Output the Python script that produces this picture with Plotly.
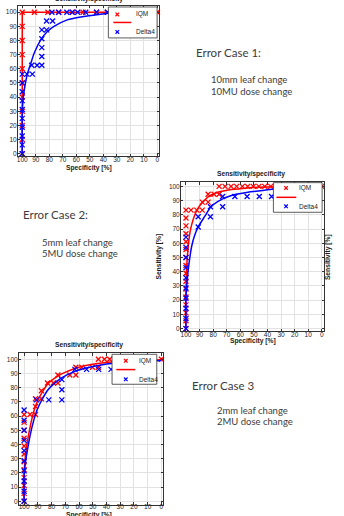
import plotly.graph_objects as go

W, H = 344, 516

# ---------------- Data: Error case 1 ----------------
c1_iqm_x = [100, 100, 100, 100, 100, 100, 100, 100, 100, 100, 100,
            91, 81, 73, 63, 55, 45, 37, 0]
c1_iqm_y = [0, 10, 20, 30, 40, 50, 60, 70, 80, 90, 100,
            100, 100, 100, 100, 100, 100, 100, 100]
c1_iqm_fit_x = [100, 100, 0]
c1_iqm_fit_y = [0, 100, 100]
c1_d4_x = [100, 100, 100, 100, 100, 100, 100, 100, 100, 100,
           96.5, 93, 92.5, 89, 85.5, 85.5, 85.5, 85.5, 85.5, 82, 82, 77.5,
           78, 73, 67, 63, 59, 53, 45, 37]
c1_d4_y = [0, 6.25, 12.5, 18.75, 25, 31.25, 37.5, 43.75, 50, 56.25,
           56.25, 62.5, 56.25, 62.5, 62.5, 68.75, 75, 81.25, 87.5, 87.5, 93.75, 93.75,
           100, 100, 100, 100, 100, 100, 100, 100]
c1_d4_fit_x = [100, 100, 99.5, 98.5, 96, 93.6, 91.2, 86.3, 81.4, 76.5, 66.7, 54.4, 42.2, 32.4]
c1_d4_fit_y = [0, 28.7, 37, 45, 57, 64, 71, 80.5, 86.4, 90, 94.6, 97, 98.6, 99.8]

# ---------------- Data: Error case 2 ----------------
c2_iqm_x = [100] * 16 + [96.3, 92, 88, 88, 83.7, 83.7, 79.3, 75.6,
                         75.6, 71.2, 66.8, 62.7, 58.5, 54.6, 50.5, 46.3, 42, 37.6, 0]
c2_iqm_y = [0, 5.6, 11.1, 16.7, 22.2, 27.8, 33.3, 38.9, 44.4, 50, 55.6, 61.1, 66.7, 72.2, 77.8, 83.3,
            83.3, 83.3, 83.3, 88.9, 88.9, 94.4, 94.4, 94.4,
            100, 100, 100, 100, 100, 100, 100, 100, 100, 100, 100]
c2_iqm_fit_x = [100, 100, 99.4, 98.3, 97.1, 95.8, 93.4, 91, 88, 83.7, 76.4, 66.6, 54.4, 42, 20, 0]
c2_iqm_fit_y = [0, 25, 45, 57.9, 67.3, 73.1, 80.2, 84.9, 88.4, 92.6, 95.8, 97.7, 98.9, 99.6, 99.9, 100]
c2_d4_x = [100] * 10 + [91, 91, 82, 82, 73, 73, 64, 55, 46, 37]
c2_d4_y = [0, 7.1, 14.3, 21.4, 28.6, 35.7, 42.9, 50, 57.1, 64.3,
           71.4, 78.6, 78.6, 85.7, 85.7, 92.9, 92.9, 92.9, 92.9, 92.9]
c2_d4_fit_x = [100, 100, 99.2, 98.3, 95.8, 93.4, 91, 86.1, 81.9, 76.4, 66.6, 54.4, 42.1, 37, 20, 0]
c2_d4_fit_y = [0, 22, 33, 41.6, 57.9, 66.1, 71.5, 79, 85.3, 89.5, 93.5, 95.8, 97.2, 98, 98.8, 99.3]

# ---------------- Data: Error case 3 ----------------
c3_iqm_x = [100] * 12 + [95.7, 91.7, 91.7, 91.7, 87.4, 87.4, 83, 78.7, 75.4, 75.4,
                         66.7, 62.3, 62.3, 58, 50.2, 45.9, 45.9, 41.5, 37.7, 0]
c3_iqm_y = [0, 5.6, 11.1, 16.7, 22.2, 27.8, 33.3, 38.9, 44.4, 50, 55.6, 61.1,
            61.1, 61.1, 66.7, 72.2, 72.2, 77.8, 83.3, 83.3, 88.9, 83.3,
            88.9, 88.9, 94.4, 94.4, 94.4, 94.4, 100, 100, 100, 100]
c3_iqm_fit_x = [100, 100, 99, 97.6, 95.5, 93, 90.5, 87, 83, 78, 73, 63, 54, 45, 35, 20, 0]
c3_iqm_fit_y = [0, 20, 32, 42, 53, 63, 70, 76.5, 82.5, 86.5, 89.5, 93.5, 95.8, 97.2, 98.2, 99, 99.6]
c3_d4_x = [100] * 10 + [91, 82, 72.5, 72.5, 72.5, 63, 54.5, 45.7, 36.7]
c3_d4_y = [0, 7.1, 14.3, 21.4, 28.6, 35.7, 42.9, 50, 57.1, 64.3,
           71.4, 71.4, 71.4, 78.6, 85.7, 92.9, 92.9, 92.9, 92.9]
c3_d4_fit_x = [100, 100, 99, 97.6, 95.5, 93, 90.5, 87, 83, 78, 73, 63, 54, 45, 35, 20, 0]
c3_d4_fit_y = [0, 18, 28, 36, 47, 57, 64.5, 71.5, 78, 83, 86.8, 91.5, 94, 95.8, 97.2, 98.3, 99.2]

tick_vals = [0, 10, 20, 30, 40, 50, 60, 70, 80, 90, 100]
legend_names = ["IQM", "Delta4"]
title_text = "Sensitivity/specificity"
xlabel_text = "Specificity [%]"
ylabel_text = "Sensitivity [%]"
case_titles = ["Error Case 1:", "Error Case 2:", "Error Case 3"]
case_lines = [["10mm leaf change", "10MU dose change"],
              ["5mm leaf change", "5MU dose change"],
              ["2mm leaf change", "2MU dose change"]]

RED = "#ff0000"
BLUE = "#0000ff"


def px(x):
    return x / W


def py(y):
    return 1 - y / H


fig = go.Figure()

cases = [
    (c1_iqm_x, c1_iqm_y, c1_iqm_fit_x, c1_iqm_fit_y, c1_d4_x, c1_d4_y, c1_d4_fit_x, c1_d4_fit_y, "linear"),
    (c2_iqm_x, c2_iqm_y, c2_iqm_fit_x, c2_iqm_fit_y, c2_d4_x, c2_d4_y, c2_d4_fit_x, c2_d4_fit_y, "spline"),
    (c3_iqm_x, c3_iqm_y, c3_iqm_fit_x, c3_iqm_fit_y, c3_d4_x, c3_d4_y, c3_d4_fit_x, c3_d4_fit_y, "spline"),
]

for i, (ix, iy, ifx, ify, dx, dy, dfx, dfy, shp) in enumerate(cases):
    xa = "x" if i == 0 else f"x{i+1}"
    ya = "y" if i == 0 else f"y{i+1}"
    mk = dict(symbol="x-thin", size=5)
    fig.add_trace(go.Scatter(x=ix, y=iy, mode="markers", xaxis=xa, yaxis=ya,
                             marker=dict(**mk, color=RED, line=dict(width=1.3, color=RED)),
                             showlegend=False, cliponaxis=False))
    fig.add_trace(go.Scatter(x=ifx, y=ify, mode="lines", xaxis=xa, yaxis=ya,
                             line=dict(color=RED, width=1.5, shape=shp, smoothing=0.6),
                             showlegend=False))
    fig.add_trace(go.Scatter(x=dx, y=dy, mode="markers", xaxis=xa, yaxis=ya,
                             marker=dict(**mk, color=BLUE, line=dict(width=1.3, color=BLUE)),
                             showlegend=False, cliponaxis=False))
    fig.add_trace(go.Scatter(x=dfx, y=dfy, mode="lines", xaxis=xa, yaxis=ya,
                             line=dict(color=BLUE, width=1.5, shape="spline", smoothing=0.6),
                             showlegend=False))

# axis frames (pixel boxes) and ranges
frames = [
    dict(box=(17, 6, 159, 156.7), xr=[103.2, -1.25], yr=[-1.9, 104.4]),
    dict(box=(181, 182.7, 325, 332), xr=[103.7, -1.7], yr=[-1.9, 102.8]),
    dict(box=(18, 354, 163, 505.7), xr=[103.8, -1.2], yr=[-2.4, 104.2]),
]

tickfont = dict(family="Liberation Sans, Arial, sans-serif", size=6.5, color="#262626")
common = dict(showgrid=True, gridcolor="#e2e2e2", gridwidth=0.6, showline=True,
              linecolor="#333333", linewidth=0.8, mirror="ticks", ticks="inside",
              ticklen=2.5, tickwidth=0.7, tickcolor="#333333", tickfont=tickfont,
              zeroline=False, tickvals=tick_vals, fixedrange=True)

layout_axes = {}
for i, fr in enumerate(frames):
    x0, y0, x1, y1 = fr["box"]
    xk = "xaxis" if i == 0 else f"xaxis{i+1}"
    yk = "yaxis" if i == 0 else f"yaxis{i+1}"
    ya = "y" if i == 0 else f"y{i+1}"
    xa = "x" if i == 0 else f"x{i+1}"
    layout_axes[xk] = dict(domain=[px(x0), px(x1)], range=fr["xr"], anchor=ya,
                           ticklabelstandoff=-4 if i == 2 else -3, **common)
    layout_axes[yk] = dict(domain=[py(y1), py(y0)], range=fr["yr"], anchor=xa,
                           ticklabelstandoff=-1, **common)

fig.update_layout(width=W, height=H, margin=dict(l=0, r=0, t=0, b=0),
                  paper_bgcolor="white", plot_bgcolor="white", showlegend=False,
                  **layout_axes)

ann = []
shapes = []

bold = dict(family="Liberation Sans, Arial, sans-serif", size=6.7, color="#1a1a1a")


def text(x, y, s, font, xanchor="center", yanchor="middle", angle=0):
    ann.append(dict(x=px(x), y=py(y), xref="paper", yref="paper", text=s, showarrow=False,
                    xanchor=xanchor, yanchor=yanchor, font=font, textangle=angle, borderpad=0))


# chart titles
text(89, -1.5, f"<b>{title_text}</b>", bold)
text(251, 174, f"<b>{title_text}</b>", bold)
text(89, 346, f"<b>{title_text}</b>", bold)
# x axis titles
text(89, 168, f"<b>{xlabel_text}</b>", bold)
text(253, 342, f"<b>{xlabel_text}</b>", bold)
text(89, 515.5, f"<b>{xlabel_text}</b>", bold)
# y axis titles for middle chart
text(158, 257, f"<b>{ylabel_text}</b>", bold, angle=-90)
text(328.5, 258, f"<b>{ylabel_text}</b>", bold, angle=-90)

# error case descriptions
big = dict(family="Lato, sans-serif", size=11.5, color="#3c3c3c")
small = dict(family="Lato, sans-serif", size=9.5, color="#3c3c3c")
case_pos = [((195, 53), (210, 80), (210, 92)),
            ((21, 215), (40, 243), (40, 253.5)),
            ((191, 386), (216, 411), (216, 422))]
for t, lines, pos in zip(case_titles, case_lines, case_pos):
    text(pos[0][0], pos[0][1], t, big, xanchor="left")
    text(pos[1][0], pos[1][1], lines[0], small, xanchor="left")
    text(pos[2][0], pos[2][1], lines[1], small, xanchor="left")

# legends (drawn as decoration)
legends = [
    dict(box=(108, 7, 157, 38), mx=117, lx=(113, 131), tx=135, rows=(14.5, 22.5, 32)),
    dict(box=(274, 183, 323, 212.7), mx=286.7, lx=(277, 297), tx=299, rows=(188.3, 197.7, 206.7)),
    dict(box=(111.7, 355, 156.7, 385), mx=125.5, lx=(116, 135), tx=138, rows=(361.5, 370.3, 380)),
]
legfont = dict(family="Liberation Sans, Arial, sans-serif", size=6.5, color="#1a1a1a")
for lg in legends:
    bx0, by0, bx1, by1 = lg["box"]
    shapes.append(dict(type="rect", xref="paper", yref="paper", x0=px(bx0), x1=px(bx1),
                       y0=py(by1), y1=py(by0), fillcolor="white",
                       line=dict(color="#333333", width=0.8), layer="above"))
    r0, r1, r2 = lg["rows"]
    for cy, col in ((r0, RED), (r2, BLUE)):
        d = 1.8
        cx = lg["mx"]
        shapes.append(dict(type="line", xref="paper", yref="paper", x0=px(cx - d), x1=px(cx + d),
                           y0=py(cy - d), y1=py(cy + d), line=dict(color=col, width=1.2), layer="above"))
        shapes.append(dict(type="line", xref="paper", yref="paper", x0=px(cx - d), x1=px(cx + d),
                           y0=py(cy + d), y1=py(cy - d), line=dict(color=col, width=1.2), layer="above"))
    shapes.append(dict(type="line", xref="paper", yref="paper", x0=px(lg["lx"][0]), x1=px(lg["lx"][1]),
                       y0=py(r1), y1=py(r1), line=dict(color=RED, width=1.5), layer="above"))
    text(lg["tx"], r0, legend_names[0], legfont, xanchor="left")
    text(lg["tx"], r2, legend_names[1], legfont, xanchor="left")

fig.update_layout(annotations=ann, shapes=shapes)

fig.write_html("out.html", config={"displayModeBar": False})
